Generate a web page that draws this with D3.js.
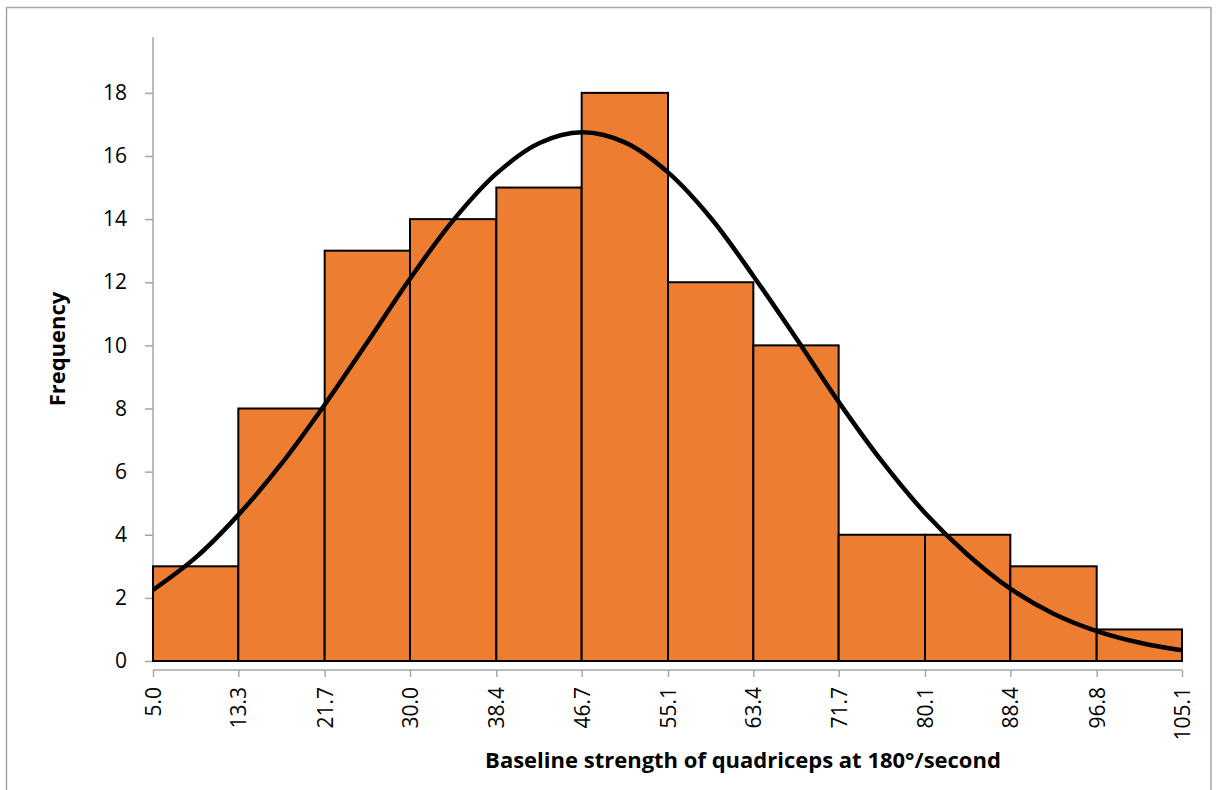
<!DOCTYPE html>
<html>
<head>
<meta charset="utf-8">
<script src="https://cdn.jsdelivr.net/npm/d3@7"></script>
<style>
  html, body { margin: 0; padding: 0; background: #fff; }
  svg { display: block; }
  text { font-family: "Open Sans", "Noto Sans", sans-serif; fill: #000; }
</style>
</head>
<body>
<svg id="chart" width="1219" height="790"></svg>
<script>
// Bin edges (tick labels) and counts per bin
const binEdges = [5.0, 13.3, 21.7, 30.0, 38.4, 46.7, 55.1, 63.4, 71.7, 80.1, 88.4, 96.8, 105.1];
const edgeLabels = ["5.0", "13.3", "21.7", "30.0", "38.4", "46.7", "55.1", "63.4", "71.7", "80.1", "88.4", "96.8", "105.1"];
const frequencies = [3, 8, 13, 14, 15, 18, 12, 10, 4, 4, 3, 1];
const yTicks = [0, 2, 4, 6, 8, 10, 12, 14, 16, 18];

// Fitted normal curve, sampled at bin edges and bin midpoints
const curveX = [5.0, 9.2, 13.3, 17.5, 21.7, 25.9, 30.0, 34.2, 38.4, 42.6, 46.7, 50.9, 55.1,
                59.3, 63.4, 67.6, 71.7, 75.9, 80.1, 84.3, 88.4, 92.6, 96.8, 101.0, 105.1];
const curveY = [2.25, 3.29, 4.63, 6.25, 8.12, 10.12, 12.11, 13.96, 15.44, 16.41, 16.75, 16.43, 15.48,
                14.02, 12.20, 10.21, 8.21, 6.33, 4.69, 3.35, 2.29, 1.50, 0.95, 0.58, 0.34];

const svg = d3.select("#chart");

// Outer frame
svg.append("path")
  .attr("d", "M6.5,790V7.5H1211V790")
  .attr("fill", "none")
  .attr("stroke", "#a6a6a6")
  .attr("stroke-width", 1.5);

const plot = { left: 153, right: 1182, top: 37, bottom: 661 };

const x = d3.scaleLinear().domain([binEdges[0], binEdges[binEdges.length - 1]]).range([plot.left, plot.right]);
const y = d3.scaleLinear().domain([0, 19.77]).range([plot.bottom, plot.top]);

// Y axis
const yAxis = svg.append("g")
  .attr("transform", `translate(${plot.left},0)`)
  .call(d3.axisLeft(y).tickValues(yTicks).tickSize(8).tickPadding(18).tickFormat(d3.format("d")));
yAxis.select(".domain").attr("stroke", "#a6a6a6").attr("stroke-width", 1.5)
  .attr("d", `M0,${plot.top}V${plot.bottom}`);
yAxis.selectAll(".tick line").attr("stroke", "#a6a6a6").attr("stroke-width", 1.5);
yAxis.selectAll(".tick text").style("font-size", "21px").attr("font-family", null);

// X axis, set just below the bars
const xAxisY = 670;
const xAxis = svg.append("g")
  .attr("transform", `translate(0,${xAxisY})`)
  .call(d3.axisBottom(x).tickValues(binEdges).tickSize(7).tickFormat((d, i) => edgeLabels[i]));
xAxis.select(".domain").attr("stroke", "#a6a6a6").attr("stroke-width", 1.5)
  .attr("d", `M${plot.left},0H${plot.right}`);
xAxis.selectAll(".tick line").attr("stroke", "#a6a6a6").attr("stroke-width", 1.5);
xAxis.selectAll(".tick text")
  .style("font-size", "21px")
  .attr("font-family", null)
  .attr("text-anchor", "end")
  .attr("transform", "rotate(-90)")
  .attr("x", -17)
  .attr("y", 0)
  .attr("dy", "0.35em");

// Histogram bars
svg.append("g").selectAll("rect")
  .data(frequencies)
  .join("rect")
  .attr("x", (d, i) => x(binEdges[i]))
  .attr("width", (d, i) => x(binEdges[i + 1]) - x(binEdges[i]))
  .attr("y", d => y(d))
  .attr("height", d => y(0) - y(d))
  .attr("fill", "#ED7D31")
  .attr("stroke", "#000")
  .attr("stroke-width", 2);

// Normal curve
const line = d3.line()
  .x(d => x(d[0]))
  .y(d => y(d[1]))
  .curve(d3.curveCatmullRom.alpha(0.5));
svg.append("path")
  .datum(curveX.map((v, i) => [v, curveY[i]]))
  .attr("d", line)
  .attr("fill", "none")
  .attr("stroke", "#000")
  .attr("stroke-width", 4.5)
  .attr("stroke-linejoin", "round");

// Axis titles
svg.append("text")
  .attr("x", 743)
  .attr("y", 768)
  .attr("text-anchor", "middle")
  .style("font-size", "22px")
  .style("font-weight", "bold")
  .text("Baseline strength of quadriceps at 180°/second");

svg.append("text")
  .attr("transform", `translate(65,${(plot.top + plot.bottom) / 2}) rotate(-90)`)
  .attr("text-anchor", "middle")
  .style("font-size", "22px")
  .style("font-weight", "bold")
  .text("Frequency");
</script>
</body>
</html>
